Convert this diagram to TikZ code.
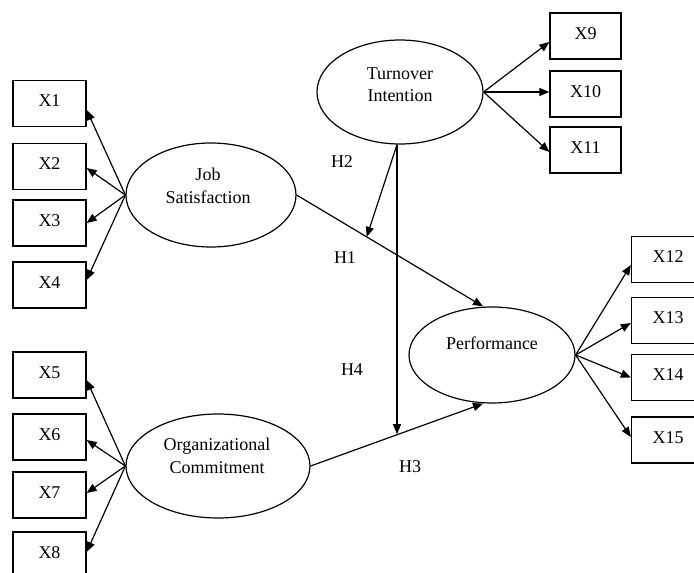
\documentclass[tikz,border=0pt]{standalone}
\usepackage{fontspec}
\setmainfont{Liberation Serif}
\usetikzlibrary{arrows.meta,shapes.geometric}
\begin{document}
\begin{tikzpicture}[x=1pt,y=-1pt,
  every node/.style={font=\fontsize{18}{22.5}\selectfont},
  ind/.style={draw,line width=1.3pt,minimum width=73pt,minimum height=46pt,inner sep=0pt,text height=12pt,text depth=6pt},
  lat/.style={draw,ellipse,line width=1.2pt,inner sep=0pt},
  ltxt/.style={align=center,inner sep=0pt},
  arr/.style={line width=1.2pt,-{Triangle[length=10pt,width=8pt]}},
  hyp/.style={inner sep=0pt}]
\useasboundingbox (0,0) rectangle (694,573);
\clip (0,0) rectangle (694,573);
% indicator boxes
\node[ind] (x1) at (49.5,103.5) {X1};
\node[ind] (x2) at (49.5,166.5) {X2};
\node[ind] (x3) at (49.5,223) {X3};
\node[ind] (x4) at (49.5,285) {X4};
\node[ind] (x5) at (49.5,375) {X5};
\node[ind] (x6) at (49.5,437) {X6};
\node[ind] (x7) at (49.5,495) {X7};
\node[ind] (x8) at (49.5,555) {X8};
\node[ind,minimum width=71pt] (x9) at (585.5,36) {X9};
\node[ind,minimum width=71pt] (x10) at (585.5,94) {X10};
\node[ind,minimum width=71pt] (x11) at (585.5,150) {X11};
\node[ind] (x12) at (668,259.5) {X12};
\node[ind] (x13) at (668,320.5) {X13};
\node[ind] (x14) at (668,377.5) {X14};
\node[ind] (x15) at (668,440) {X15};
% latent variables
\node[lat,minimum width=170pt,minimum height=104pt] (js) at (211,195) {};
\node[ltxt] (jst) at (208,186) {Job\\Satisfaction};
\node[lat,minimum width=166pt,minimum height=104pt] (ti) at (400,92) {};
\node[ltxt] (tit) at (400,84.5) {Turnover\\Intention};
\node[lat,minimum width=184pt,minimum height=104pt] (oc) at (218,466) {};
\node[ltxt] (oct) at (217,456) {Organizational\\Commitment};
\node[lat,minimum width=166pt,minimum height=96pt] (pf) at (492,355) {};
\node[ltxt] (pft) at (492,343) {Performance};
% hypothesis labels
\node[hyp] (h2) at (342,162) {H2};
\node[hyp] (h1) at (345,258) {H1};
\node[hyp] (h4) at (352,370) {H4};
\node[hyp] (h3) at (410,467) {H3};
% indicator arrows
\draw[arr] (js.west) -- ([yshift=-6.5pt]x1.east);
\draw[arr] (js.west) -- ([yshift=-1.5pt]x2.east);
\draw[arr] (js.west) -- (x3.east);
\draw[arr] (js.west) -- ([yshift=5pt]x4.east);
\draw[arr] (oc.west) -- ([yshift=-5pt]x5.east);
\draw[arr] (oc.west) -- ([yshift=-3pt]x6.east);
\draw[arr] (oc.west) -- ([yshift=2pt]x7.east);
\draw[arr] (oc.west) -- ([yshift=3pt]x8.east);
\draw[arr] (ti.east) -- ([yshift=-6pt]x9.west);
\draw[arr] (ti.east) -- ([yshift=2pt]x10.west);
\draw[arr] (ti.east) -- ([yshift=-2pt]x11.west);
\draw[arr] (pf.east) -- ([yshift=-5.5pt]x12.west);
\draw[arr] (pf.east) -- ([yshift=-2.5pt]x13.west);
\draw[arr] (pf.east) -- (x14.west);
\draw[arr] (pf.east) -- ([yshift=3pt]x15.west);
% structural paths
\coordinate (pfn) at ([xshift=-9pt]pf.north);
\coordinate (pfs) at ([xshift=-9pt]pf.south);
\draw[arr] (js.east) -- (pfn) coordinate[pos=0.376] (m1);
\draw[arr] (oc.east) -- (pfs) coordinate[pos=0.51] (m2);
\coordinate (tib) at ([xshift=-3pt]ti.south);
\draw[arr] (tib) -- (tib |- m2);
\draw[arr] (tib) -- (m1);
\end{tikzpicture}
\end{document}
